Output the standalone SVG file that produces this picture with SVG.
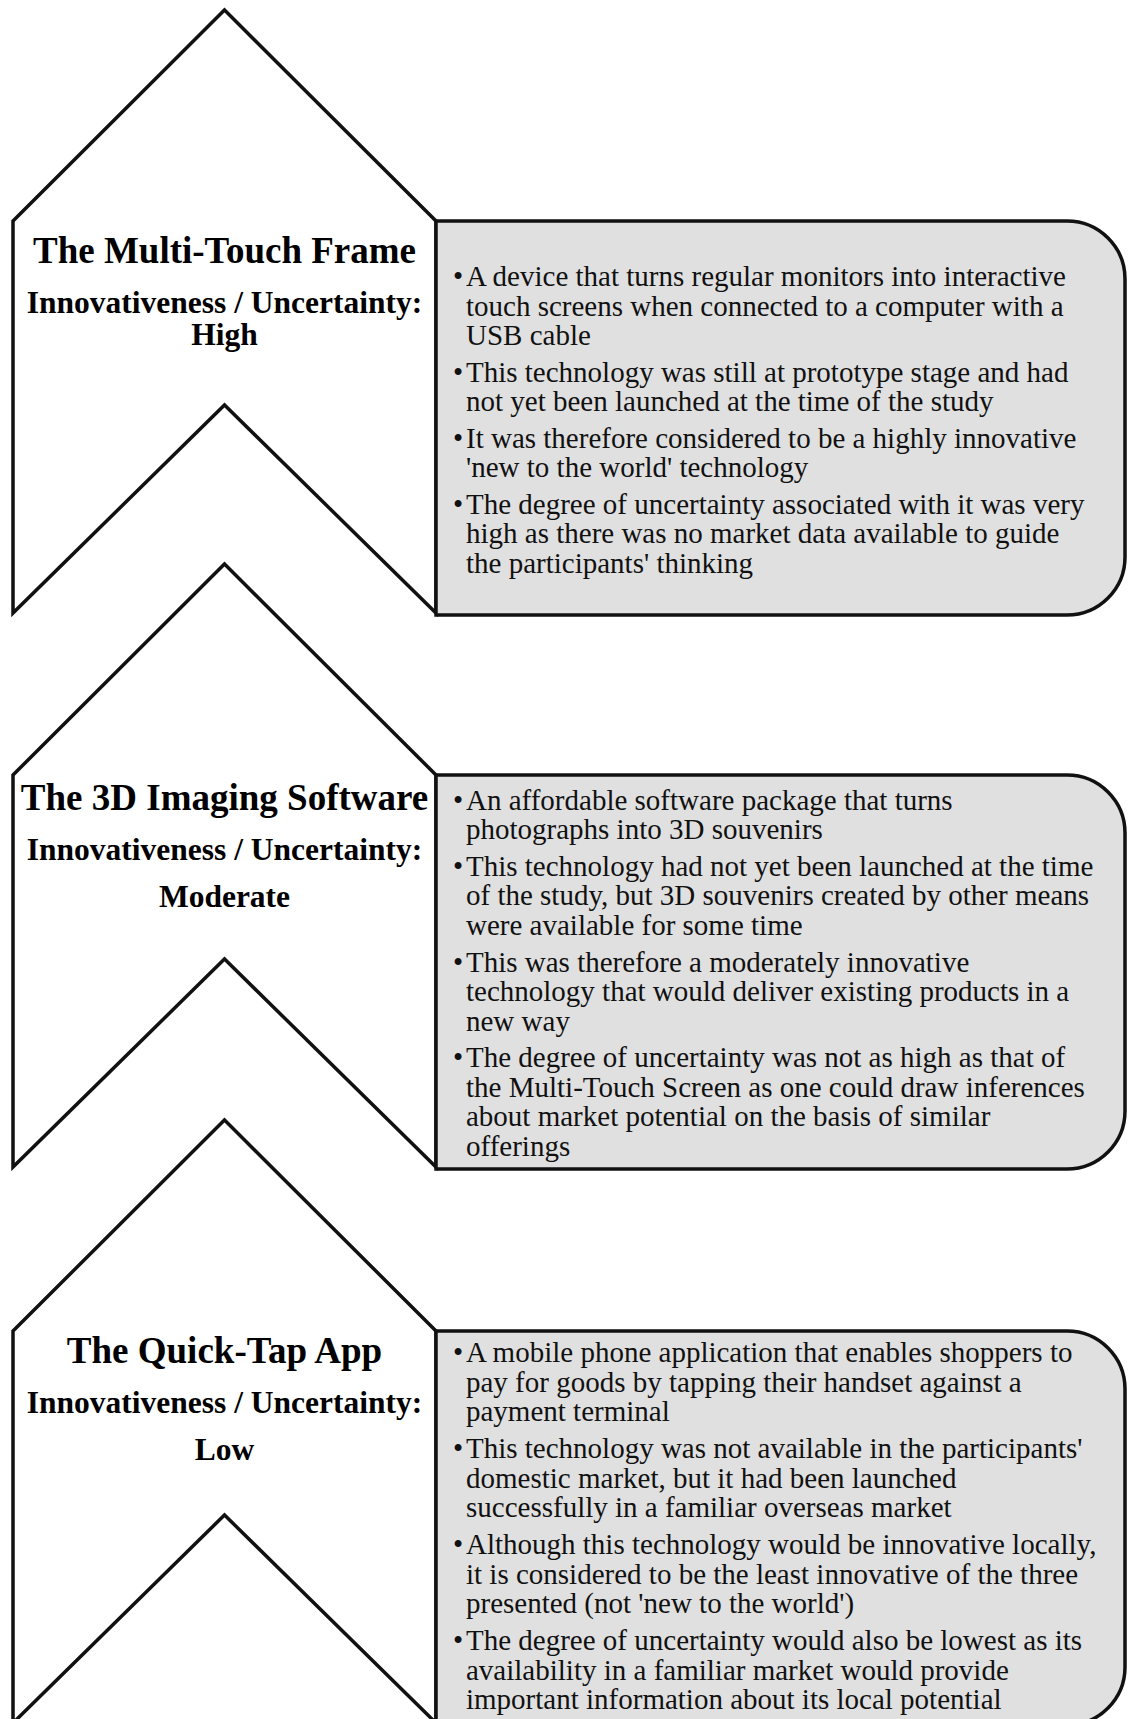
<svg xmlns="http://www.w3.org/2000/svg" width="1128" height="1719" viewBox="0 0 1128 1719">
  <style>
    .chev { fill: #ffffff; stroke: #111111; stroke-width: 3.5; stroke-linejoin: miter; }
    .box { fill: #e0e0e0; stroke: #111111; stroke-width: 3.5; stroke-linejoin: miter; }
    .title { font-family: "Liberation Serif", "Times New Roman", serif; font-weight: bold; font-size: 37px; fill: #000; text-anchor: middle; }
    .sub { font-family: "Liberation Serif", "Times New Roman", serif; font-weight: bold; font-size: 31.5px; fill: #000; text-anchor: middle; }
    .body { font-family: "Liberation Serif", "Times New Roman", serif; font-size: 29px; fill: #111; }
  </style>
  <rect width="1128" height="1719" fill="#ffffff"/>

  <!-- Stage 1: Multi-Touch Frame -->
  <g id="node-multitouch">
    <path class="chev" d="M13,221 L224.5,10 L436,221 L436,613 L224.5,405 L13,613 Z"/>
    <path class="box" d="M436,221 H1067 A58,58 0 0 1 1125,279 V557 A58,58 0 0 1 1067,615 H436 Z"/>
    <text class="title" x="224.5" y="263">The Multi-Touch Frame</text>
    <text class="sub" x="224.5" y="313">Innovativeness / Uncertainty:</text>
    <text class="sub" x="224.5" y="345">High</text>
    <text class="body">
      <tspan x="453" y="286">•</tspan><tspan x="466" y="286">A device that turns regular monitors into interactive</tspan>
      <tspan x="466" y="315.5">touch screens when connected to a computer with a</tspan>
      <tspan x="466" y="345">USB cable</tspan>
      <tspan x="453" y="381.5">•</tspan><tspan x="466" y="381.5">This technology was still at prototype stage and had</tspan>
      <tspan x="466" y="411">not yet been launched at the time of the study</tspan>
      <tspan x="453" y="447.5">•</tspan><tspan x="466" y="447.5">It was therefore considered to be a highly innovative</tspan>
      <tspan x="466" y="477">'new to the world' technology</tspan>
      <tspan x="453" y="513.5">•</tspan><tspan x="466" y="513.5">The degree of uncertainty associated with it was very</tspan>
      <tspan x="466" y="543">high as there was no market data available to guide</tspan>
      <tspan x="466" y="572.5">the participants' thinking</tspan>
    </text>
  </g>

  <!-- Stage 2: 3D Imaging Software -->
  <g id="node-3d-imaging">
    <path class="chev" d="M13,775 L224.5,564 L436,775 L436,1167 L224.5,959 L13,1167 Z"/>
    <path class="box" d="M436,775 H1067 A58,58 0 0 1 1125,833 V1111 A58,58 0 0 1 1067,1169 H436 Z"/>
    <text class="title" x="224.5" y="810">The 3D Imaging Software</text>
    <text class="sub" x="224.5" y="860">Innovativeness / Uncertainty:</text>
    <text class="sub" x="224.5" y="907">Moderate</text>
    <text class="body">
      <tspan x="453" y="810">•</tspan><tspan x="466" y="810">An affordable software package that turns</tspan>
      <tspan x="466" y="839">photographs into 3D souvenirs</tspan>
      <tspan x="453" y="875.5">•</tspan><tspan x="466" y="875.5">This technology had not yet been launched at the time</tspan>
      <tspan x="466" y="905">of the study, but 3D souvenirs created by other means</tspan>
      <tspan x="466" y="934.5">were available for some time</tspan>
      <tspan x="453" y="971.5">•</tspan><tspan x="466" y="971.5">This was therefore a moderately innovative</tspan>
      <tspan x="466" y="1001">technology that would deliver existing products in a</tspan>
      <tspan x="466" y="1030.5">new way</tspan>
      <tspan x="453" y="1067">•</tspan><tspan x="466" y="1067">The degree of uncertainty was not as high as that of</tspan>
      <tspan x="466" y="1096.5">the Multi-Touch Screen as one could draw inferences</tspan>
      <tspan x="466" y="1126">about market potential on the basis of similar</tspan>
      <tspan x="466" y="1155.5">offerings</tspan>
    </text>
  </g>

  <!-- Stage 3: Quick-Tap App -->
  <g id="node-quicktap">
    <path class="chev" d="M13,1331 L224.5,1120 L436,1331 L436,1723 L224.5,1515 L13,1723 Z"/>
    <path class="box" d="M436,1331 H1067 A58,58 0 0 1 1125,1389 V1667 A58,58 0 0 1 1067,1725 H436 Z"/>
    <text class="title" x="224.5" y="1363">The Quick-Tap App</text>
    <text class="sub" x="224.5" y="1413">Innovativeness / Uncertainty:</text>
    <text class="sub" x="224.5" y="1460">Low</text>
    <text class="body">
      <tspan x="453" y="1362">•</tspan><tspan x="466" y="1362">A mobile phone application that enables shoppers to</tspan>
      <tspan x="466" y="1391.5">pay for goods by tapping their handset against a</tspan>
      <tspan x="466" y="1421">payment terminal</tspan>
      <tspan x="453" y="1458">•</tspan><tspan x="466" y="1458">This technology was not available in the participants'</tspan>
      <tspan x="466" y="1487.5">domestic market, but it had been launched</tspan>
      <tspan x="466" y="1517">successfully in a familiar overseas market</tspan>
      <tspan x="453" y="1554">•</tspan><tspan x="466" y="1554">Although this technology would be innovative locally,</tspan>
      <tspan x="466" y="1583.5">it is considered to be the least innovative of the three</tspan>
      <tspan x="466" y="1613">presented (not 'new to the world')</tspan>
      <tspan x="453" y="1650">•</tspan><tspan x="466" y="1650">The degree of uncertainty would also be lowest as its</tspan>
      <tspan x="466" y="1679.5">availability in a familiar market would provide</tspan>
      <tspan x="466" y="1709">important information about its local potential</tspan>
    </text>
  </g>
</svg>
